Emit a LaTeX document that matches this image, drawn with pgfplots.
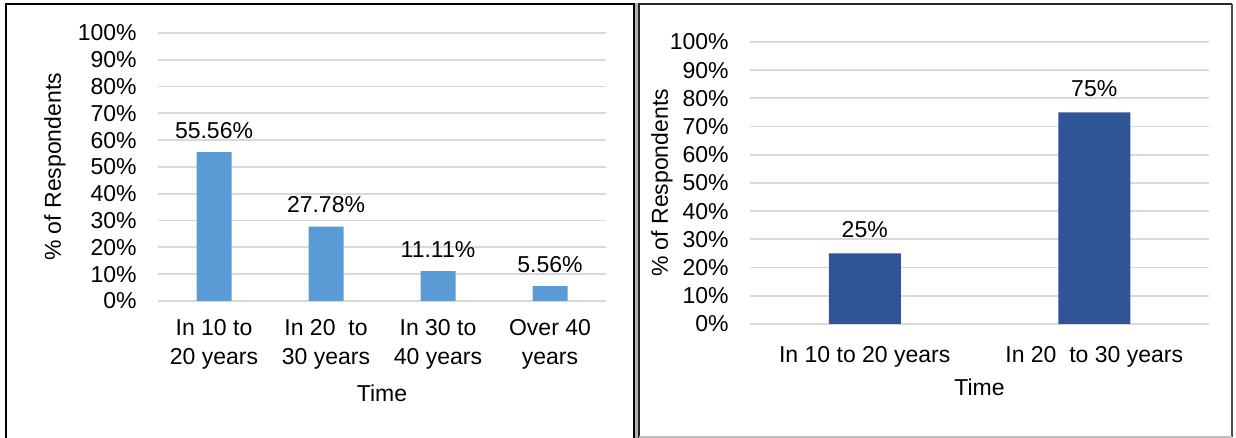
\documentclass[border=0pt]{standalone}
\usepackage{fontspec}
\setmainfont{Liberation Sans}
\usepackage{pgfplots}
\pgfplotsset{compat=1.18}
\definecolor{barA}{HTML}{5B9BD5}
\definecolor{barB}{HTML}{2F5597}
\definecolor{gridc}{HTML}{D9D9D9}
\newcommand{\fs}{\fontsize{11.5}{14.5}\selectfont}
\pgfplotsset{
  mystyle/.style={
    scale only axis,
    ymin=0, ymax=100,
    ytick={0,10,...,100},
    yticklabels={0\%,10\%,20\%,30\%,40\%,50\%,60\%,70\%,80\%,90\%,100\%},
    ymajorgrids,
    grid style={gridc, line width=0.9pt},
    axis line style={draw=none},
    major tick length=0pt,
    tick style={draw=none},
    /pgf/number format/assume math mode=true,
    yticklabel style={anchor=east, inner sep=0pt, xshift=-10.5pt, font=\fs},
    xticklabel style={align=center, anchor=north, inner sep=0pt, font=\fs},
    label style={font=\fs},
    xtick=data,
    ybar,
    point meta=explicit symbolic,
    nodes near coords,
    nodes near coords style={anchor=base, inner sep=0pt, font=\fs},
    clip=false,
  }
}
\begin{document}
\begin{tikzpicture}[font=\fs]
\useasboundingbox (0,0) rectangle (618pt,219pt);
% panel frames
\fill[gray!60] (317pt,-1pt) rectangle (319.5pt,217.5pt);
\draw[black, line width=1pt] (3pt,-2pt) -- (3pt,216.75pt) -- (317pt,216.75pt) -- (317pt,-2pt);
\draw[black!85, line width=1pt] (319.5pt,-2pt) -- (319.5pt,216.75pt) -- (616pt,216.75pt);
\draw[black!70, line width=0.8pt] (616pt,216.75pt) -- (616pt,0.6pt);
\draw[gray!50, line width=0.8pt] (319.5pt,0.6pt) -- (616pt,0.6pt);

\begin{axis}[mystyle,
  at={(79pt,68.5pt)}, anchor=south west,
  width=224pt, height=134pt,
  xmin=-0.5, xmax=3.5,
  bar width=17.5pt,
  xticklabels={In 10 to\\20 years, In 20~~to\\30 years, In 30 to\\40 years, Over 40\\years},
  xticklabel style={yshift=-9pt},
  nodes near coords style={yshift=7pt},
  ylabel={\% of Respondents},
  xlabel={Time},
  every axis y label/.style={at={(axis description cs:-0.23,0.5)}, rotate=90, anchor=center},
  every axis x label/.style={at={(axis description cs:0.5,-0.343)}, anchor=center},
]
\addplot[fill=barA, draw=none] coordinates {
  (0,55.56) [55.56\%]
  (1,27.78) [27.78\%]
  (2,11.11) [11.11\%]
  (3,5.56) [5.56\%]
};
\end{axis}

\begin{axis}[mystyle,
  at={(375pt,57pt)}, anchor=south west,
  width=229.5pt, height=141pt,
  xmin=-0.5, xmax=1.5,
  bar width=36pt,
  xticklabels={In 10 to 20 years, In 20~~to 30 years},
  xticklabel style={yshift=-11pt},
  nodes near coords style={yshift=8pt},
  ylabel={\% of Respondents},
  xlabel={Time},
  every axis y label/.style={at={(axis description cs:-0.1917,0.5)}, rotate=90, anchor=center},
  every axis x label/.style={at={(axis description cs:0.5,-0.223)}, anchor=center},
]
\addplot[fill=barB, draw=none] coordinates {
  (0,25) [25\%]
  (1,75) [75\%]
};
\end{axis}
\end{tikzpicture}
\end{document}
